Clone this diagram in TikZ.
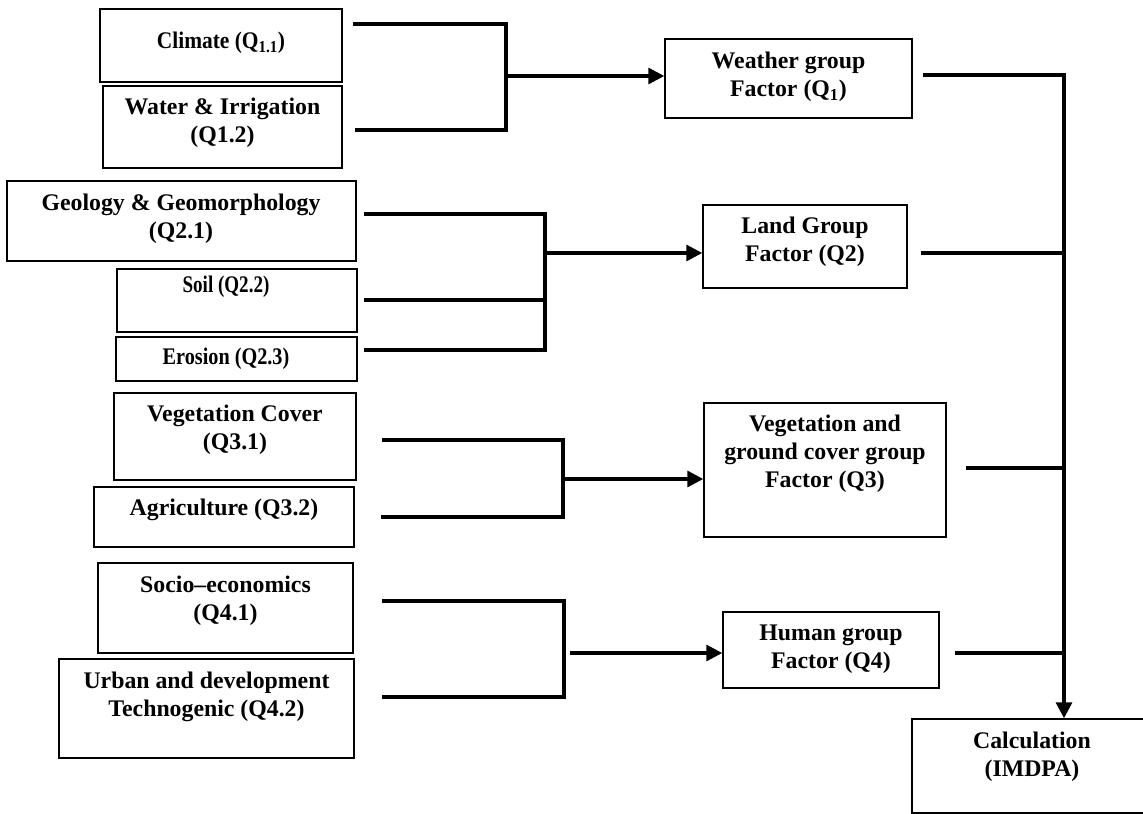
\documentclass[tikz,border=0pt]{standalone}
\usepackage{fontspec}
\usepackage{graphicx}
\setmainfont{Liberation Serif}
\usetikzlibrary{arrows.meta}

% box given by its corners (x1,y1) and (x2,y2), in pixel units
\newcommand\flowbox[5]{%
  \node[box, minimum width={(#4-#2)*0.75pt}, minimum height={(#5-#3)*0.75pt}]
    (#1) at ({(#2+#4)/2},{(#3+#5)/2}) {};}
% horizontally condensed text
\newcommand\narrow[2]{\scalebox{#1}[1]{#2}}

\tikzset{
  box/.style={draw, rectangle, line width=1.1pt, inner sep=0pt},
  lbl/.style={align=center, inner sep=0pt, font=\bfseries\fontsize{17.85pt}{21pt}\selectfont},
  link/.style={line width=2.4pt, line join=miter, line cap=butt},
  flow/.style={link, -{Triangle[length=12pt, width=12pt]}},
}

\begin{document}
\begin{tikzpicture}[x=0.75pt, y=-0.75pt]
\useasboundingbox (0,0) rectangle (1143,814);

% ---- factor boxes (left column)
\flowbox{climate}{100}{9}{342}{82}
\flowbox{water}{103}{86}{342}{168}
\flowbox{geology}{7}{181}{356}{261}
\flowbox{soil}{117}{269}{357}{332}
\flowbox{erosion}{116}{337}{357}{381}
\flowbox{vegcov}{114}{393}{356}{480}
\flowbox{agri}{94}{487}{354}{547}
\flowbox{socio}{98}{563}{353}{653}
\flowbox{urban}{59}{659}{354}{758}

% ---- group boxes
\flowbox{weather}{665}{39}{912}{118}
\flowbox{land}{703}{205}{907}{288}
\flowbox{veggrp}{704}{403}{946}{537}
\flowbox{human}{723}{612}{939}{688}
\flowbox{calc}{912}{719}{1152}{813}

% ---- labels
\node[lbl] (climateT) at (221,43) {\narrow{0.9}{Climate (Q\textsubscript{1.1})}};
\node[lbl] (waterT) at (222.5,123) {Water \& Irrigation\\(Q1.2)};
\node[lbl] (geologyT) at (181,219) {Geology \& Geomorphology\\(Q2.1)};
\node[lbl] (soilT) at (226,287) {\narrow{0.8}{Soil (Q2.2)}};
\node[lbl] (erosionT) at (226,359) {\narrow{0.85}{Erosion (Q2.3)}};
\node[lbl] (vegcovT) at (235,430) {Vegetation Cover\\(Q3.1)};
\node[lbl] (agriT) at (224,510) {Agriculture (Q3.2)};
\node[lbl] (socioT) at (225.5,601) {Socio–economics\\(Q4.1)};
\node[lbl] (urbanT) at (206.5,697) {Urban and development\\Technogenic (Q4.2)};

\node[lbl] (weatherT) at (788.5,77) {Weather group\\Factor (Q\textsubscript{1})};
\node[lbl] (landT) at (805,242) {Land Group\\Factor (Q2)};
\node[lbl] (veggrpT) at (825,454) {Vegetation and\\ground cover group\\Factor (Q3)};
\node[lbl] (humanT) at (831,649) {Human group\\Factor (Q4)};
\node[lbl] (calcT) at (1032,757) {Calculation\\(IMDPA)};

% ---- weather group bracket
\coordinate (a1) at (353,24);
\coordinate (a2) at (355,130);
\coordinate (b1) at (506,24);
\coordinate (b2) at (506,130);
\coordinate (j1) at (506,76);
\draw[link] (a1) -- (b1) -- (b2) -- (a2);
\draw[flow] (j1) -- (j1 -| weather.west);

% ---- land group bracket
\coordinate (g1) at (364,214);
\coordinate (g2) at (364,300);
\coordinate (g3) at (364,350);
\coordinate (k1) at (545,214);
\coordinate (k3) at (545,350);
\coordinate (j2) at (545,253);
\draw[link] (g1) -- (k1) -- (k3) -- (g3);
\draw[link] (g2) -- (g2 -| k1);
\draw[flow] (j2) -- (j2 -| land.west);

% ---- vegetation group bracket
\coordinate (v1) at (382,440);
\coordinate (v2) at (381,517);
\coordinate (n1) at (563,440);
\coordinate (n2) at (563,517);
\coordinate (j3) at (563,479);
\draw[link] (v1) -- (n1) -- (n2) -- (v2);
\draw[flow] (j3) -- (j3 -| veggrp.west);

% ---- human group bracket
\coordinate (s1) at (382,601);
\coordinate (s2) at (382,697);
\coordinate (h1) at (564,601);
\coordinate (h2) at (564,697);
\coordinate (j4) at (570,653);
\draw[link] (s1) -- (h1) -- (h2) -- (s2);
\draw[flow] (j4) -- (j4 -| human.west);

% ---- collector line into the calculation
\coordinate (r1) at (923,75);
\coordinate (r2) at (921,253);
\coordinate (r3) at (966,468);
\coordinate (r4) at (955,653);
\coordinate (m1) at (1064,75);
\draw[flow] (r1) -- (m1) -- (m1 |- calc.north);
\draw[link] (r2) -- (r2 -| m1);
\draw[link] (r3) -- (r3 -| m1);
\draw[link] (r4) -- (r4 -| m1);
\end{tikzpicture}
\end{document}
